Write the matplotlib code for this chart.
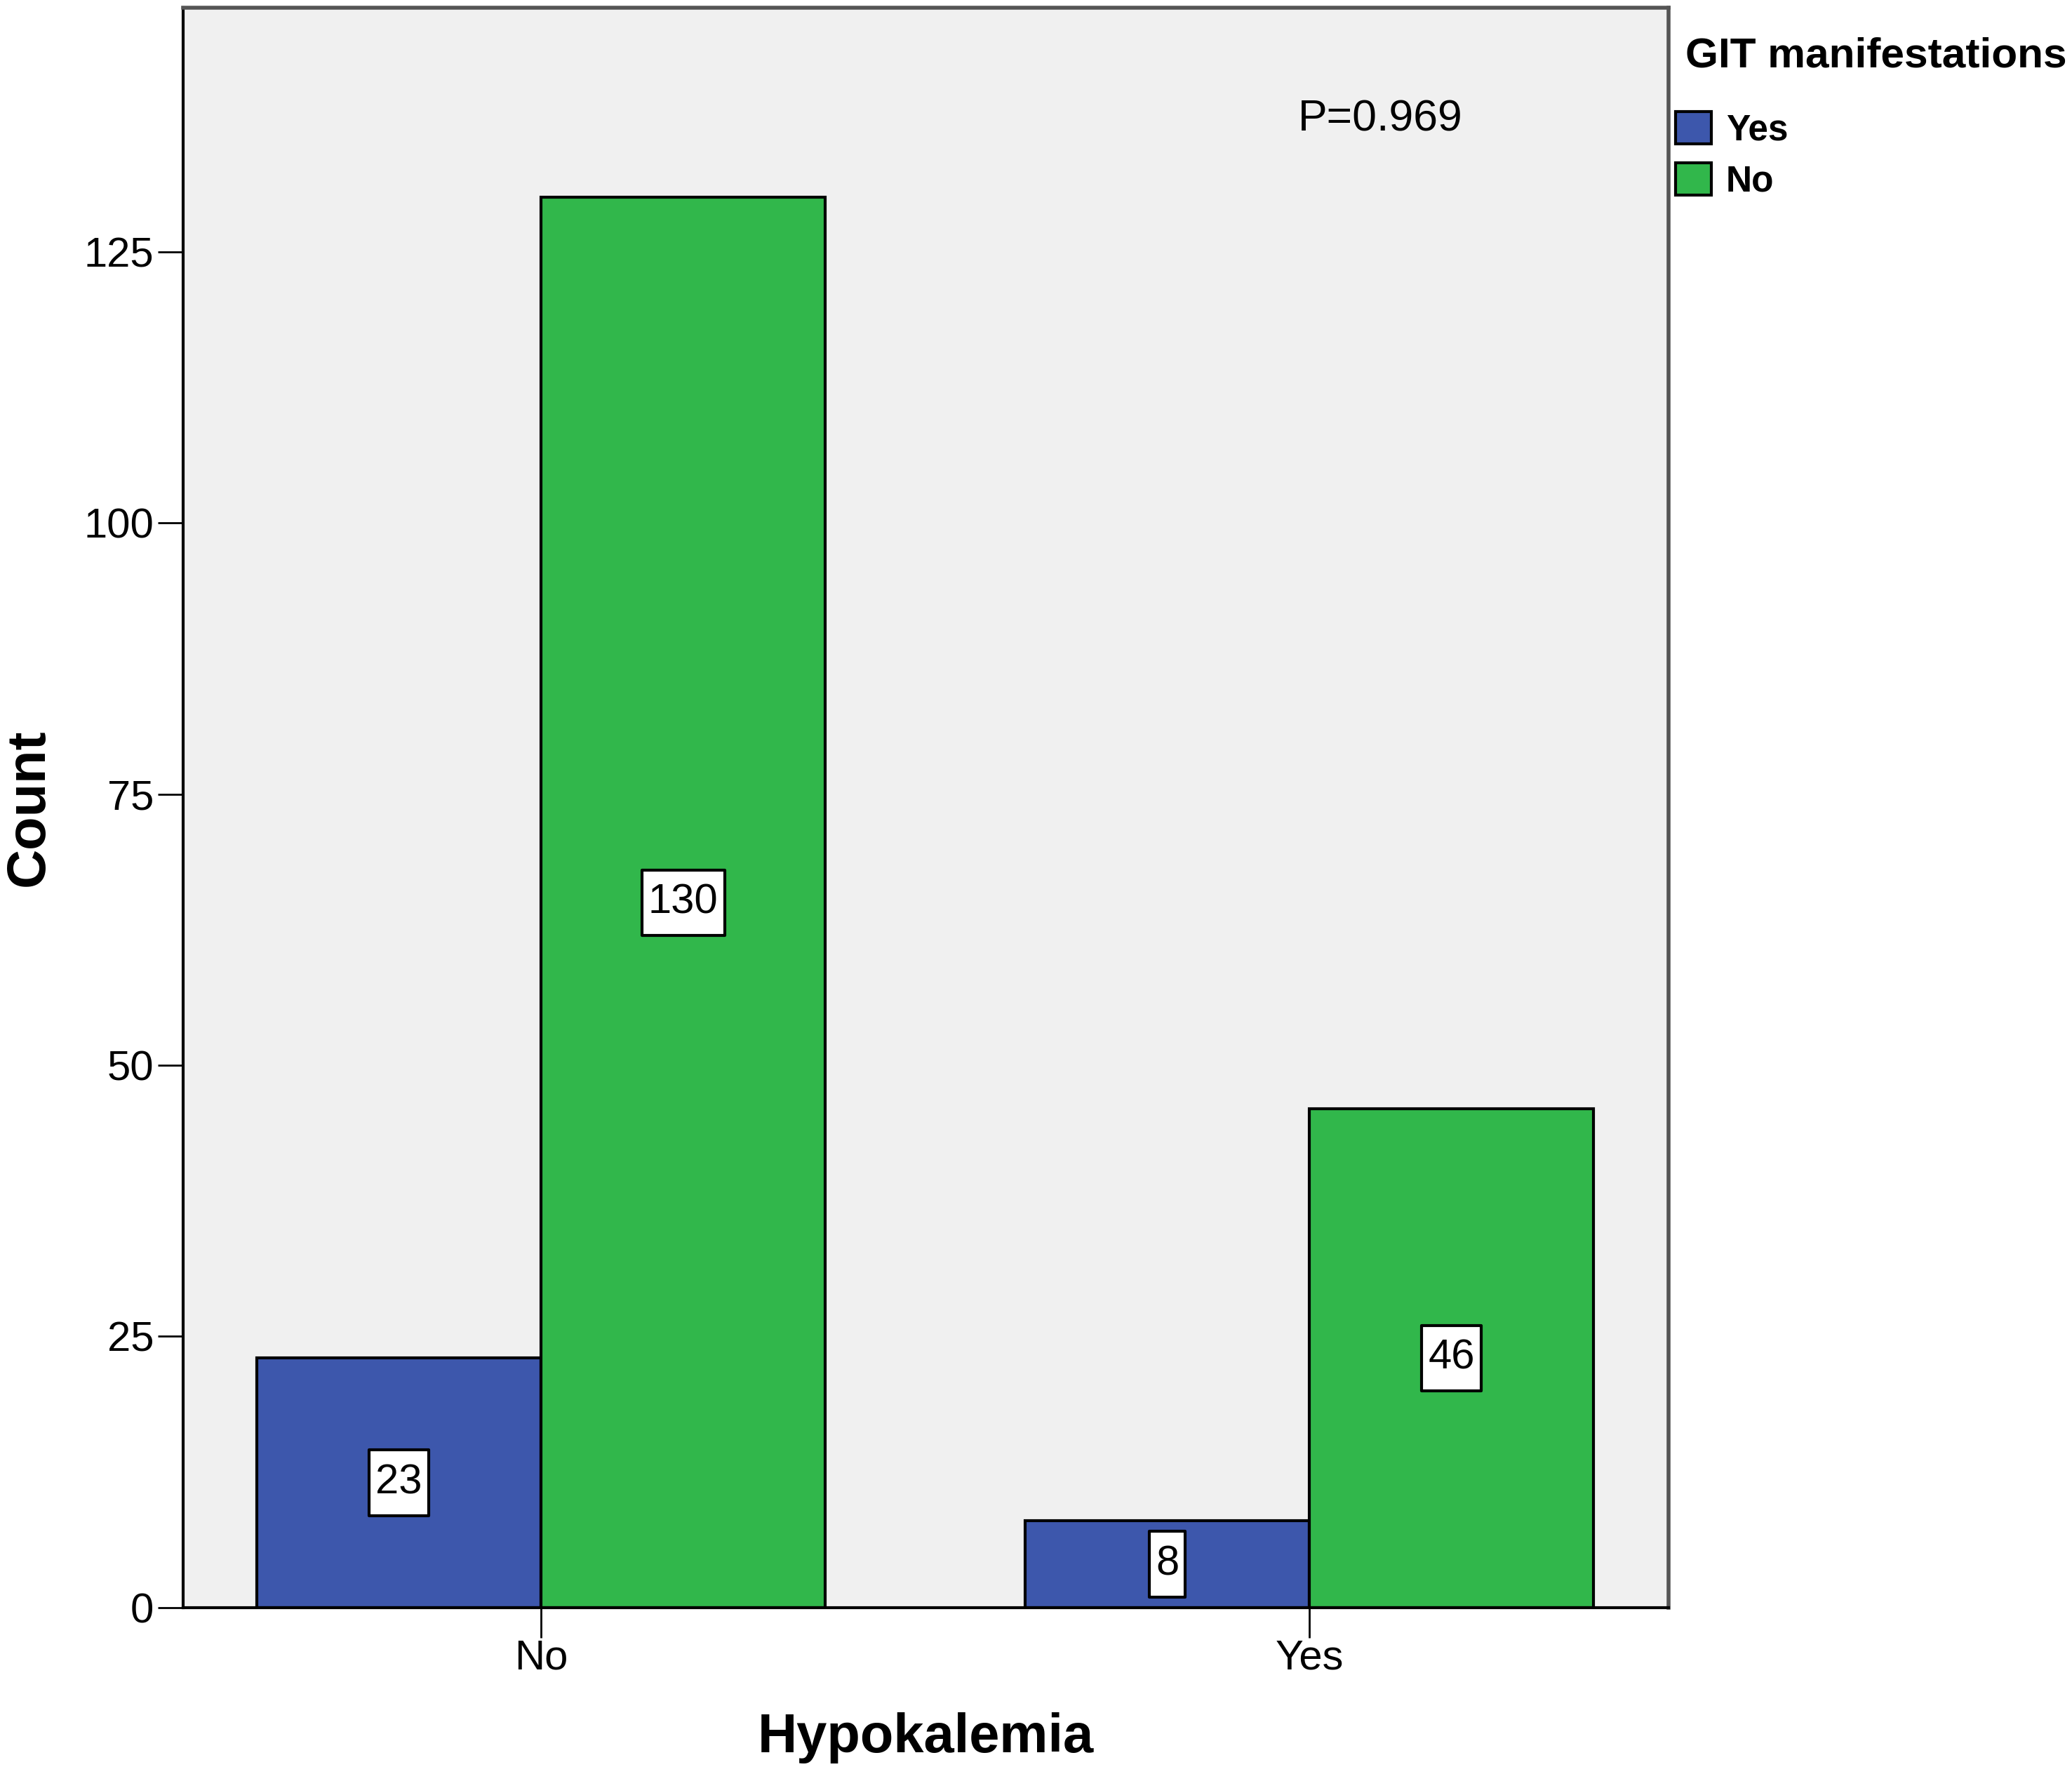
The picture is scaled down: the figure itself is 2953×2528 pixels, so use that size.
import numpy as np
import matplotlib
matplotlib.use('Agg')
import matplotlib.pyplot as plt
from matplotlib.patches import Patch
from matplotlib.path import Path

categories = ['No', 'Yes']
git_yes = [23, 8]
git_no = [130, 46]
series_names = ['Yes', 'No']
p_text = 'P=0.969'

blue = '#3d57ac'
green = '#31b74b'

plt.rcParams['font.family'] = ['Liberation Sans', 'DejaVu Sans']


def label_box(x0, y0, width, height, mutation_size):
    # box with more room above and below the number than at the sides
    px = 0.15 * mutation_size
    py = 0.32 * mutation_size
    x0, y0 = x0 - px, y0 - py
    x1, y1 = x0 + width + 2 * px, y0 + height + 2 * py
    return Path([(x0, y0), (x1, y0), (x1, y1), (x0, y1), (x0, y0)], closed=True)


fig = plt.figure(figsize=(29.53, 25.28), dpi=100)
ax = fig.add_axes([0.0884, 0.0938, 0.7169, 0.9019])
ax.set_facecolor('#f0f0f0')

x = np.arange(len(categories))
w = 0.37
b1 = ax.bar(x - w / 2, git_yes, w, color=blue, edgecolor='black', linewidth=3)
b2 = ax.bar(x + w / 2, git_no, w, color=green, edgecolor='black', linewidth=3)

for bars, vals in [(b1, git_yes), (b2, git_no)]:
    for bar, v in zip(bars, vals):
        ax.text(bar.get_x() + bar.get_width() / 2, v / 2, str(v),
                ha='center', va='center', fontsize=43,
                bbox=dict(boxstyle=label_box, facecolor='white',
                          edgecolor='black', linewidth=3, joinstyle='round'))

ax.set_xlim(-0.466, 1.4676)
ax.set_ylim(0, 147.5)
ax.set_xticks(x)
ax.set_xticklabels(categories)
ax.set_yticks([0, 25, 50, 75, 100, 125])
ax.tick_params(axis='y', length=26, width=2, labelsize=43, pad=4)
ax.tick_params(axis='x', length=31, width=2, labelsize=43, pad=1)

for side in ['left', 'bottom']:
    ax.spines[side].set_linewidth(3)
    ax.spines[side].set_color('black')
for side in ['top', 'right']:
    ax.spines[side].set_linewidth(4)
    ax.spines[side].set_color('#555555')

ax.set_xlabel('Hypokalemia', fontsize=56, fontweight='bold', labelpad=36)
ax.set_ylabel('Count', fontsize=56, fontweight='bold', labelpad=30)

ax.text(1967 / 2953, 1 - 170 / 2528, p_text, transform=fig.transFigure,
        ha='center', va='center', fontsize=45)

fig.text(2402 / 2953, 1 - 95 / 2528, 'GIT manifestations', ha='left',
         va='baseline', fontsize=43.5, fontweight='bold')

handles = [Patch(facecolor=blue, edgecolor='black', linewidth=3),
           Patch(facecolor=green, edgecolor='black', linewidth=3)]
leg = fig.legend(handles, series_names, loc='upper left',
                 bbox_to_anchor=(2388 / 2953, 1 - 159 / 2528),
                 frameon=False, fontsize=37, handlelength=1.0,
                 handleheight=1.0, handletextpad=0.4, labelspacing=0.42,
                 borderpad=0, borderaxespad=0)
for t in leg.get_texts():
    t.set_fontweight('bold')

fig.savefig('out.png', dpi=100)
plt.close()
